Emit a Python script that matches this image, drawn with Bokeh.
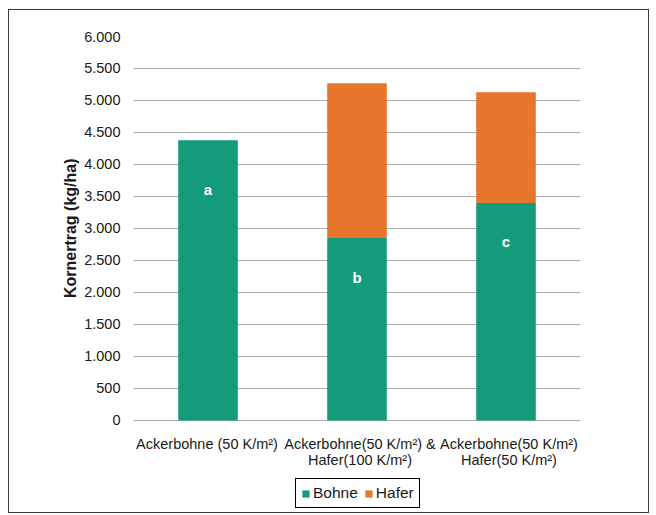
from bokeh.plotting import figure
from bokeh.models import ColumnDataSource, FactorRange, Range1d, FixedTicker, Legend, Title
from bokeh.core.properties import value
from bokeh.embed import file_html
from bokeh.resources import INLINE

categories = ["Ackerbohne (50 K/m²)",
              "Ackerbohne(50 K/m²) &\nHafer(100 K/m²)",
              "Ackerbohne(50 K/m²)\nHafer(50 K/m²)"]
bohne = [4380, 2850, 3400]
hafer = [0, 2420, 1730]
letters = ["a", "b", "c"]
letter_y = [3610, 2240, 2800]
y_ticks = [0, 500, 1000, 1500, 2000, 2500, 3000, 3500, 4000, 4500, 5000, 5500, 6000]
y_tick_labels = ["0", "500", "1.000", "1.500", "2.000", "2.500", "3.000",
                 "3.500", "4.000", "4.500", "5.000", "5.500", "6.000"]

# layout-only: small horizontal pixel shift of each category label
label_dx = [-1, 3, 3]

GREEN = "#149b7c"
ORANGE = "#e8752c"
FONT = "Liberation Sans"
TEXT = "#1a1a1a"

src = ColumnDataSource(dict(cat=categories, Bohne=bohne, Hafer=hafer,
                            zero=[0] * len(categories), dx=label_dx))

# frame extends below y=0 so the legend (below the category labels) is inside it
p = figure(width=641, height=504, output_backend="svg", toolbar_location=None,
           x_range=FactorRange(factors=categories, range_padding=0),
           y_range=Range1d(-1469, 6000),
           min_border_left=124, min_border_right=70, min_border_top=26,
           min_border_bottom=0)
p.styles = {"border": "1px solid #3a3a3a"}
p.margin = (9, 0, 0, 8)
p.outline_line_color = None

r = p.vbar_stack(["Bohne", "Hafer"], x="cat", width=0.4, color=[GREEN, ORANGE],
                 line_color=None, source=src)

lsrc = ColumnDataSource(dict(cat=categories, y=letter_y, t=letters))
p.text(x="cat", y="y", text="t", source=lsrc, text_color="white",
       text_font=value(FONT), text_font_style="bold", text_font_size="15px",
       text_align="center", text_baseline="middle")

# category labels under the zero line
p.text(x="cat", y="zero", text="cat", source=src, text_color=TEXT,
       text_font=value(FONT), text_font_size="14.5px", text_align="center",
       text_baseline="top", x_offset="dx", y_offset=16, text_line_height=1.0)

p.xaxis.visible = False
p.xgrid.grid_line_color = None
p.ygrid.grid_line_color = "#a8a8a8"
p.ygrid.grid_line_width = 1.2

p.yaxis.ticker = FixedTicker(ticks=y_ticks)
p.ygrid.ticker = FixedTicker(ticks=y_ticks)
p.yaxis.major_label_overrides = {t: l for t, l in zip(y_ticks, y_tick_labels)}
p.yaxis.axis_line_color = None
p.yaxis.major_tick_line_color = None
p.yaxis.minor_tick_line_color = None
p.yaxis.major_label_standoff = 7
p.yaxis.major_label_text_font = FONT
p.yaxis.major_label_text_font_size = "14.5px"
p.yaxis.major_label_text_color = TEXT

ytitle = Title(text="Kornertrag (kg/ha)", align="right", offset=122,
               text_font=FONT, text_font_style="bold", text_font_size="16px",
               text_color=TEXT, standoff=6)
p.add_layout(ytitle, "left")

legend = Legend(items=[("Bohne", [r[0]]), ("Hafer", [r[1]])],
                orientation="horizontal", location=(162, 6))
legend.border_line_color = "#000000"
legend.border_line_alpha = 1.0
legend.border_line_width = 1
legend.background_fill_color = "white"
legend.label_text_font = FONT
legend.label_text_font_size = "15.5px"
legend.label_text_color = TEXT
legend.glyph_width = 9
legend.glyph_height = 9
legend.label_standoff = 3
legend.spacing = 6
legend.padding = 5
legend.margin = 1
legend.label_height = 13
p.add_layout(legend, "center")

open("out.html", "w").write(file_html(p, INLINE))
